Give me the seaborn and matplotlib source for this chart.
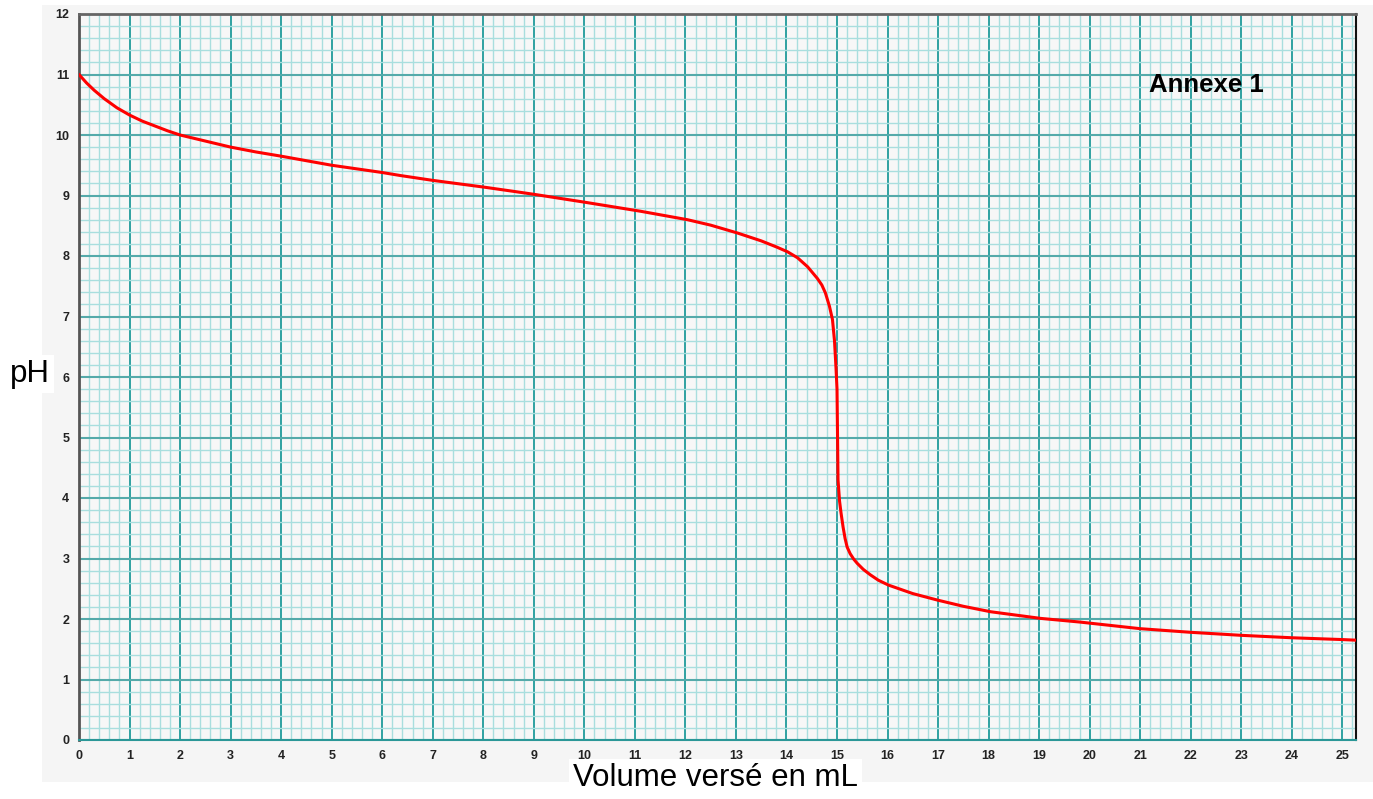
import numpy as np
import pandas as pd
import matplotlib
matplotlib.use("Agg")
import matplotlib.pyplot as plt
from matplotlib.patches import Rectangle
from matplotlib.ticker import MultipleLocator
import seaborn as sns

# titration curve
volume = [0, 0.15, 0.3, 0.5, 0.75, 1, 1.25, 1.5, 1.75, 2, 2.5, 3, 3.5, 4, 5, 6,
          6.36, 7, 8, 8.67, 9, 10, 11.11, 12.04, 12.5, 13.03, 13.5, 13.8, 14.02,
          14.22, 14.42, 14.61, 14.7, 14.77, 14.85, 14.91, 14.95, 14.98, 15.0,
          15.02, 15.05, 15.08, 15.12, 15.16, 15.2, 15.26, 15.33, 15.4, 15.52,
          15.66, 15.82, 16.02, 16.5, 17.0, 17.5, 18.04, 19.03, 19.8, 21, 22,
          23, 24, 25, 25.27]
ph = [11.0, 10.86, 10.74, 10.6, 10.45, 10.33, 10.23, 10.15, 10.07, 10.0,
      9.9, 9.8, 9.72, 9.65, 9.5, 9.38, 9.33, 9.25, 9.14, 9.06, 9.02, 8.89,
      8.74, 8.6, 8.51, 8.38, 8.25, 8.15, 8.07, 7.97, 7.82, 7.63, 7.52, 7.39,
      7.17, 6.95, 6.6, 6.15, 5.8, 4.3, 3.95, 3.75, 3.52, 3.33, 3.19, 3.08,
      2.99, 2.92, 2.82, 2.73, 2.64, 2.56, 2.42, 2.31, 2.21, 2.12, 2.01, 1.95,
      1.84, 1.78, 1.73, 1.69, 1.66, 1.65]

df = pd.DataFrame({"Volume": volume, "pH": ph})

sns.set_style("white")
plt.rcParams["font.family"] = ["Liberation Sans", "DejaVu Sans"]

fig = plt.figure(figsize=(13.73, 7.99), dpi=100)
fig.patches.append(Rectangle((42 / 1373, 1 - 782 / 799), 1 - 42 / 1373, (782 - 5) / 799,
                             transform=fig.transFigure, facecolor="#f5f5f5",
                             edgecolor="none", zorder=-5))

ax = fig.add_axes([79 / 1373, 1 - 740 / 799, (1356 - 79) / 1373, (740 - 14) / 799])
ax.set_zorder(1)
ax.set_facecolor("#f7f7f7")

sns.lineplot(data=df, x="Volume", y="pH", ax=ax, color="#ff0000",
             linewidth=2.2, sort=False, zorder=5)

ax.set_xlim(0, 25.27)
ax.set_ylim(0, 12)
ax.xaxis.set_major_locator(MultipleLocator(1))
ax.xaxis.set_minor_locator(MultipleLocator(0.2))
ax.yaxis.set_major_locator(MultipleLocator(1))
ax.yaxis.set_minor_locator(MultipleLocator(0.2))

ax.grid(which="minor", color="#a9dede", linewidth=1.0, zorder=1)
ax.xaxis.grid(which="major", color="#1f9a9a", linewidth=1.3, zorder=2)
ax.yaxis.grid(which="major", color="#55aaaa", linewidth=1.5, zorder=2)
ax.set_axisbelow(True)

ax.tick_params(which="major", axis="both", length=5, width=1, color="#555555",
               labelsize=9, labelcolor="#222222", pad=2)
ax.tick_params(which="minor", axis="y", length=4, width=1, color="#777777")
ax.tick_params(which="minor", axis="x", length=3, width=1, color="#3aa8a8")
for lab in ax.get_xticklabels() + ax.get_yticklabels():
    lab.set_fontweight("bold")

ax.spines["left"].set_color("#555555")
ax.spines["left"].set_linewidth(2)
ax.spines["top"].set_color("#666666")
ax.spines["top"].set_linewidth(2)
ax.spines["right"].set_color("#111111")
ax.spines["right"].set_linewidth(1.5)
ax.spines["bottom"].set_color("#2b9797")
ax.spines["bottom"].set_linewidth(1.5)

ax.set_xlabel("")
ax.set_ylabel("")
fig.text(715 / 1373, 1 - 778 / 799, "Volume versé en mL", fontsize=22.5,
         ha="center", va="center", color="black", zorder=3,
         bbox=dict(facecolor="white", edgecolor="none", pad=3))
fig.text(30 / 1373, 1 - 374 / 799, "pH", fontsize=22.5, ha="center", va="center",
         color="black", zorder=3,
         bbox=dict(facecolor="white", edgecolor="none", pad=3))

ax.text(21.17, 10.83, "Annexe 1", fontsize=18.5, fontweight="bold",
        ha="left", va="center", color="black", zorder=6)

fig.savefig("out.png", dpi=100, facecolor="white")
